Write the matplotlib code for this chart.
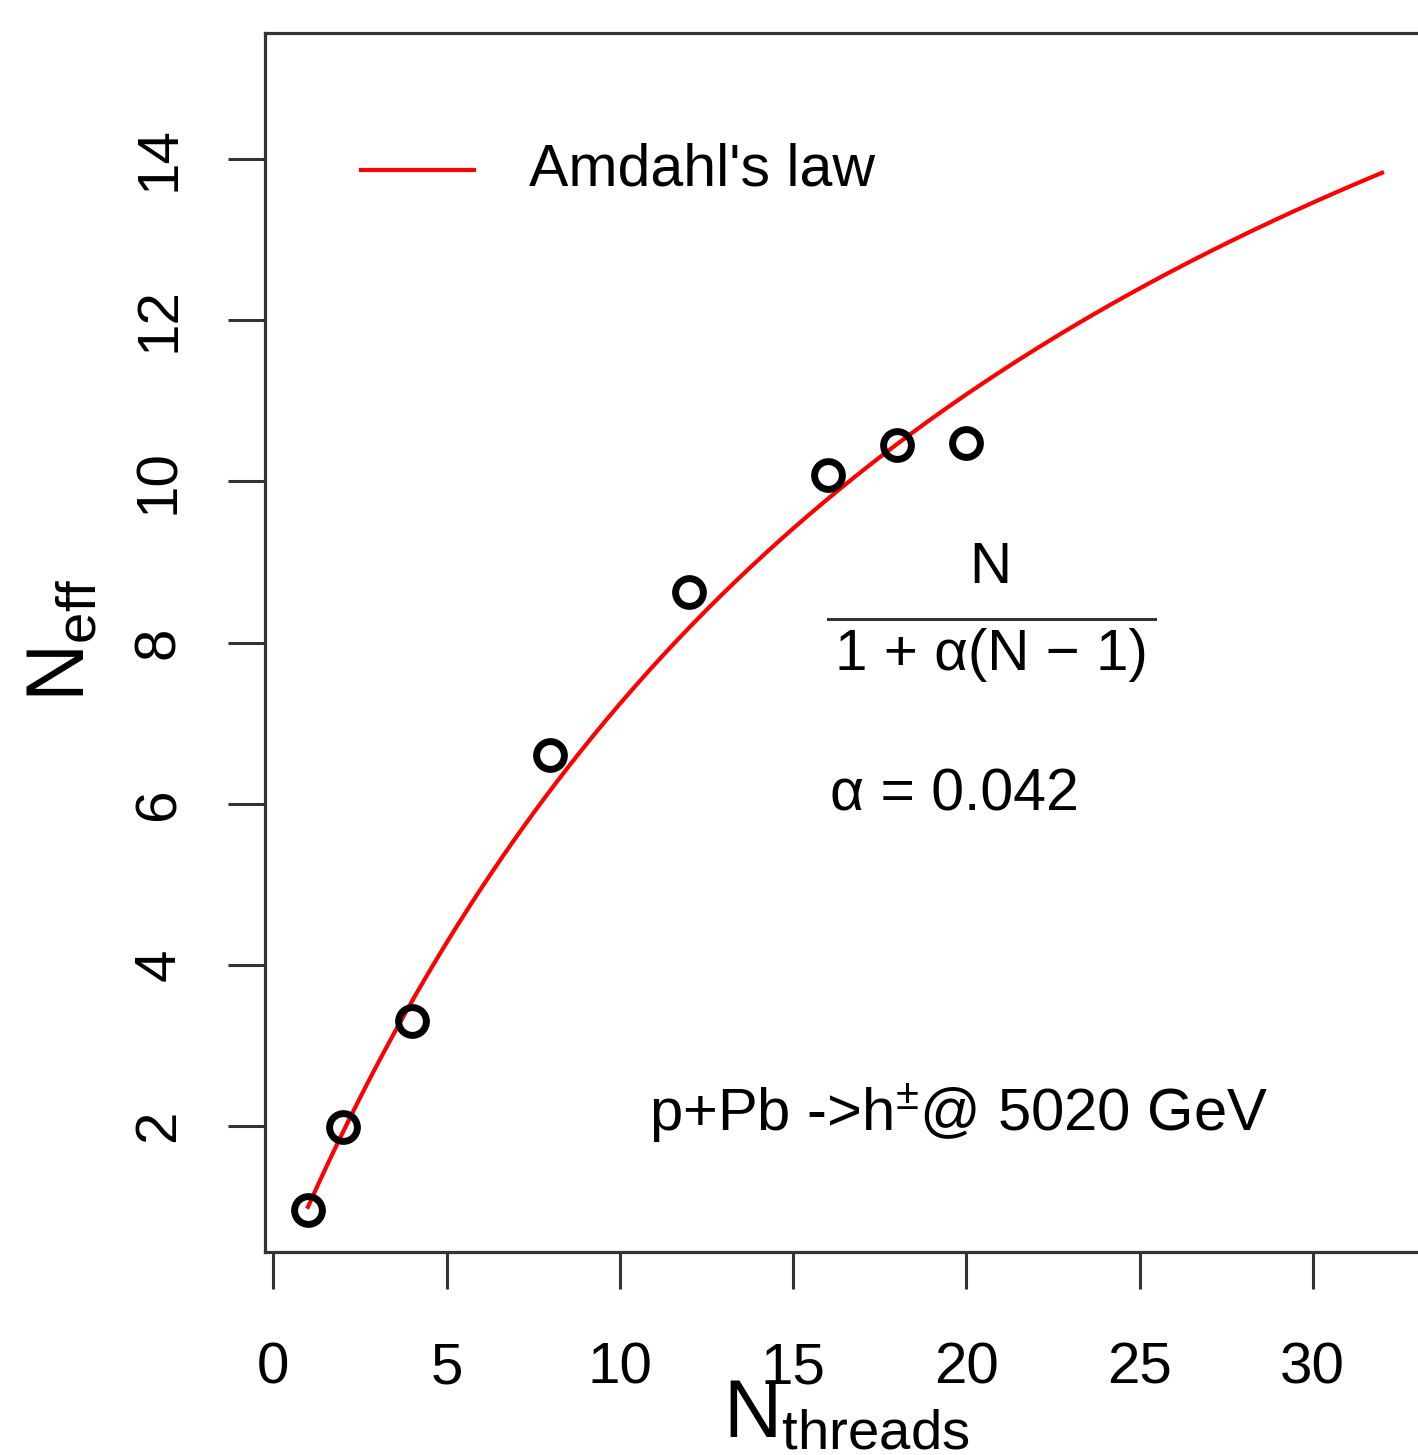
import numpy as np
import matplotlib
matplotlib.use("Agg")
import matplotlib.pyplot as plt

plt.rcParams['font.family'] = ['Liberation Sans', 'DejaVu Sans']
plt.rcParams['mathtext.fontset'] = 'custom'
plt.rcParams['mathtext.rm'] = 'Liberation Sans'
plt.rcParams['mathtext.it'] = 'Liberation Sans:italic'
plt.rcParams['mathtext.bf'] = 'Liberation Sans:bold'

# measured speed-up
n_threads = [1, 2, 4, 8, 12, 16, 18, 20]
n_eff = [0.96, 1.99, 3.31, 6.60, 8.63, 10.08, 10.45, 10.47]

# Amdahl's law fit (label shows the rounded value)
alpha = 0.0424
alpha_label = "α = 0.042"
n_max = 32

x_ticks = [0, 5, 10, 15, 20, 25, 30]
y_ticks = [2, 4, 6, 8, 10, 12, 14]

W, H = 1418, 1455
fig = plt.figure(figsize=(W / 100, H / 100), dpi=100)
ax = fig.add_axes([265 / W, 1 - 1252 / H, (1425 - 265) / W, (1252 - 33) / H])

n = np.linspace(1, n_max, 300)
ax.plot(n, n / (1 + alpha * (n - 1)), color='red', lw=3)
ax.plot(n_threads, n_eff, 'o', ms=20, mfc='none', mec='black', mew=5)

ax.set_xlim(-0.24, 33.24)
ax.set_ylim(0.44, 15.56)
ax.set_xticks(x_ticks)
ax.set_yticks(y_ticks)
ax.tick_params(direction='out', length=26.6, width=2.2, color='#333333',
               labelsize=42)
ax.tick_params(axis='x', pad=38)
ax.tick_params(axis='y', pad=30, labelrotation=90)
for lab in ax.get_yticklabels():
    lab.set_va('center')
for sp in ax.spines.values():
    sp.set_color('#333333')
    sp.set_linewidth(2.3)

# legend
ax.plot([2.54, 5.79], [13.86, 13.86], color='red', lw=3)
ax.text(7.38, 13.86, "Amdahl's law", fontsize=42.5, va='center', ha='left')

# formula
ax.text(20.69, 8.93, "N", fontsize=42, ha='center', va='center')
ax.plot([16.02, 25.45], [8.29, 8.29], color='#333333', lw=2.2)
ax.text(20.72, 7.85, "1 + α(N − 1)", fontsize=42, ha='center', va='center')
ax.text(16.08, 6.11, alpha_label, fontsize=42.5, ha='left', va='center')

ax.text(10.84, 1.93, r"p+Pb ->h$\mathregular{^{\pm}}$@ 5020 GeV",
        fontsize=43, ha='left', va='baseline')

fig.text(846 / W, 1 - 1438 / H, r"$\mathregular{N_{threads}}$", fontsize=58,
         ha='center', va='baseline')
fig.text(64 / W, 1 - 640 / H, r"$\mathregular{N_{eff}}$", fontsize=58,
         ha='center', va='center', rotation=90)

fig.savefig("out.png", dpi=100)
